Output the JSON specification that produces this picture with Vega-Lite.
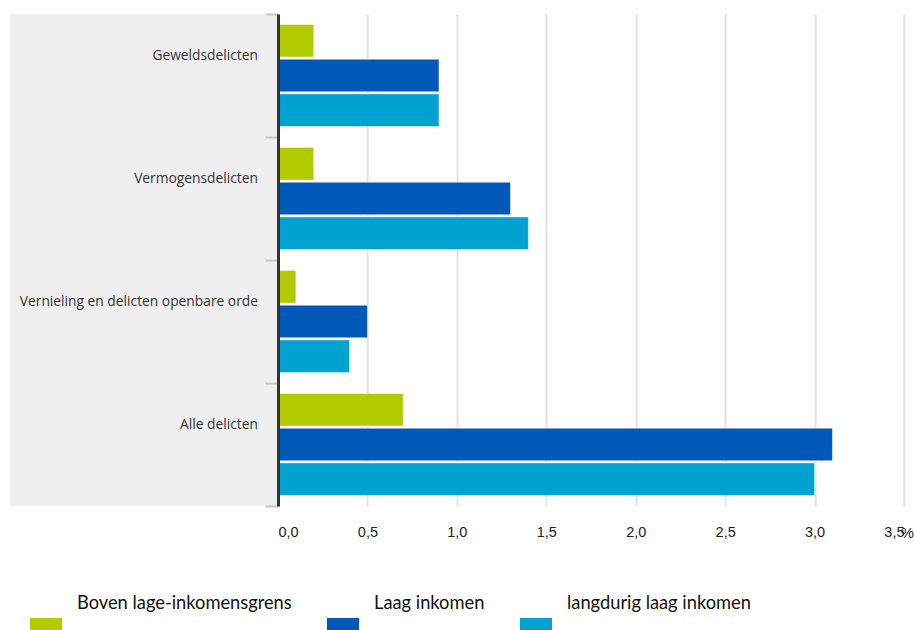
{
  "$schema": "https://vega.github.io/schema/vega-lite/v6.json",
  "padding": {"left": 10, "top": 13, "right": 0, "bottom": 0},
  "autosize": {"type": "pad"},
  "background": "white",
  "config": {"view": {"stroke": null}, "concat": {"spacing": -14}},
  "data": {"values": [
    {"cat": "Geweldsdelicten", "series": "Boven lage-inkomensgrens", "value": 0.2},
    {"cat": "Geweldsdelicten", "series": "Laag inkomen", "value": 0.9},
    {"cat": "Geweldsdelicten", "series": "langdurig laag inkomen", "value": 0.9},
    {"cat": "Vermogensdelicten", "series": "Boven lage-inkomensgrens", "value": 0.2},
    {"cat": "Vermogensdelicten", "series": "Laag inkomen", "value": 1.3},
    {"cat": "Vermogensdelicten", "series": "langdurig laag inkomen", "value": 1.4},
    {"cat": "Vernieling en delicten openbare orde", "series": "Boven lage-inkomensgrens", "value": 0.1},
    {"cat": "Vernieling en delicten openbare orde", "series": "Laag inkomen", "value": 0.5},
    {"cat": "Vernieling en delicten openbare orde", "series": "langdurig laag inkomen", "value": 0.4},
    {"cat": "Alle delicten", "series": "Boven lage-inkomensgrens", "value": 0.7},
    {"cat": "Alle delicten", "series": "Laag inkomen", "value": 3.1},
    {"cat": "Alle delicten", "series": "langdurig laag inkomen", "value": 3.0}
  ]},
  "hconcat": [
    {
      "width": 268,
      "height": 492,
      "view": {"fill": "#efefef", "stroke": null},
      "transform": [{"filter": "datum.series === 'Laag inkomen'"}],
      "mark": {"type": "text", "align": "right", "baseline": "middle", "x": "width", "dx": -20, "dy": -20, "font": "Open Sans", "fontSize": 13.8, "color": "#333333"},
      "encoding": {
        "y": {"field": "cat", "type": "nominal", "sort": ["Geweldsdelicten", "Vermogensdelicten", "Vernieling en delicten openbare orde", "Alle delicten"], "scale": {"paddingInner": 0, "paddingOuter": 0}, "axis": null},
        "text": {"field": "cat", "type": "nominal"}
      }
    },
    {
      "width": 626,
      "height": 492,
      "mark": {"type": "bar", "stroke": "white", "strokeWidth": 1, "strokeOpacity": 0.5},
      "encoding": {
        "y": {"field": "cat", "type": "nominal", "sort": ["Geweldsdelicten", "Vermogensdelicten", "Vernieling en delicten openbare orde", "Alle delicten"], "scale": {"paddingInner": 0, "paddingOuter": 0},
          "axis": {"labels": false, "title": null, "ticks": true, "tickBand": "extent", "tickSize": 13, "tickColor": "#c8c8c8", "tickWidth": 2, "domainColor": "#333333", "domainWidth": 3, "grid": false, "zindex": 1}},
        "yOffset": {"field": "series", "type": "nominal", "sort": ["Boven lage-inkomensgrens", "Laag inkomen", "langdurig laag inkomen"], "scale": {"paddingInner": 0.06, "paddingOuter": 0.3}},
        "x": {"field": "value", "type": "quantitative", "scale": {"domain": [0, 3.5], "nice": false},
          "axis": {"values": [0, 0.5, 1, 1.5, 2, 2.5, 3, 3.5], "labelExpr": "replace(format(datum.value, '.1f'), '.', ',')", "domain": false, "ticks": false, "tickSize": 0, "labelPadding": 19, "labelFont": "Liberation Sans", "labelFontSize": 14.5, "labelColor": "#222222", "grid": true, "gridColor": "#e3e3e3", "gridWidth": 2, "title": "%", "titleX": 629, "titleY": 27, "titleAlign": "center", "titleBaseline": "middle", "titleFont": "Liberation Sans", "titleFontSize": 14.5, "titleFontWeight": "normal", "titleColor": "#222222"}},
        "color": {"field": "series", "type": "nominal", "sort": ["Boven lage-inkomensgrens", "Laag inkomen", "langdurig laag inkomen"],
          "scale": {"domain": ["Boven lage-inkomensgrens", "Laag inkomen", "langdurig laag inkomen"], "range": ["#b1cb00", "#0058b8", "#00a2cf"]},
          "legend": {"orient": "none", "legendX": 20, "legendY": 574, "direction": "horizontal", "title": null, "symbolType": "M-1,0.875H1V1.6875H-1Z", "symbolSize": 1024, "symbolStrokeWidth": 0, "symbolOpacity": 1, "labelFont": "Lato", "labelFontSize": 18.3, "labelColor": "#111111", "labelOffset": 15, "labelLimit": 400, "columnPadding": 35, "padding": 0}}
      }
    }
  ]
}
